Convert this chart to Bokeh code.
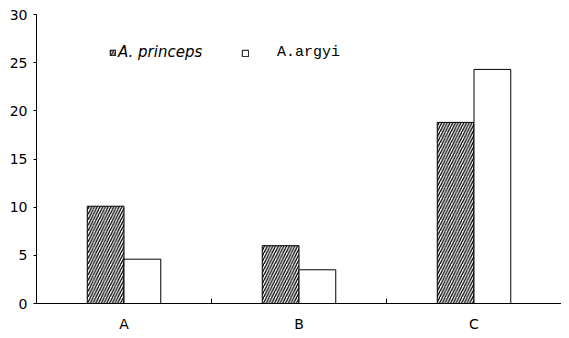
from bokeh.plotting import figure
from bokeh.models import ColumnDataSource, Legend, LegendItem, FixedTicker
from bokeh.transform import dodge
from bokeh.embed import file_html
from bokeh.resources import INLINE

categories = ["A", "B", "C"]
princeps = [10.1, 6.0, 18.8]
argyi = [4.6, 3.5, 24.3]
y_ticks = [0, 5, 10, 15, 20, 25, 30]

src = ColumnDataSource(dict(cat=categories, princeps=princeps, argyi=argyi))
bsrc = ColumnDataSource(dict(cat=categories[1:], y0=[0] * 2, y1=[0.5] * 2))

p = figure(x_range=categories, y_range=(0, 30), width=561, height=334,
           output_backend="svg", toolbar_location=None,
           min_border_left=36, min_border_right=0, min_border_top=14, min_border_bottom=20)
p.x_range.range_padding = 0

r1 = p.vbar(x=dodge("cat", -0.105, range=p.x_range), top="princeps", width=0.21, source=src,
            fill_color="white", line_color="black", line_width=1,
            hatch_pattern="/", hatch_color="black", hatch_scale=5.5, hatch_weight=1.3)
r2 = p.vbar(x=dodge("cat", 0.105, range=p.x_range), top="argyi", width=0.21, source=src,
            fill_color="white", line_color="black", line_width=1)
p.segment(x0=dodge("cat", -0.5, range=p.x_range), x1=dodge("cat", -0.5, range=p.x_range),
          y0="y0", y1="y1", source=bsrc, line_color="black", line_width=1)

p.grid.visible = False
p.outline_line_color = None

p.yaxis.ticker = FixedTicker(ticks=y_ticks)
p.yaxis.minor_tick_line_color = None
p.yaxis.major_tick_out = 3
p.yaxis.major_tick_in = 0
p.yaxis.major_label_text_font = "DejaVu Sans"
p.yaxis.major_label_text_font_size = "14px"
p.yaxis.major_label_text_color = "black"
p.yaxis.axis_line_color = "black"
p.yaxis.major_tick_line_color = "black"
p.yaxis.major_label_standoff = 6

p.xaxis.major_tick_line_color = None
p.xaxis.major_tick_out = 0
p.xaxis.major_tick_in = 0
p.xaxis.major_label_text_font = "DejaVu Sans"
p.xaxis.major_label_text_font_size = "14px"
p.xaxis.major_label_text_line_height = 0.9
p.xaxis.major_label_text_color = "black"
p.xaxis.major_label_standoff = 12
p.xaxis.axis_line_color = "black"

leg1 = Legend(items=[LegendItem(label="A. princeps", renderers=[r1])], location=(73, 242),
              padding=0, margin=0, border_line_color=None, background_fill_alpha=0,
              glyph_width=7, glyph_height=7, label_height=14, label_standoff=2,
              label_text_font="DejaVu Sans", label_text_font_style="italic",
              label_text_font_size="15px", label_text_color="black")
leg2 = Legend(items=[LegendItem(label="A.argyi", renderers=[r2])], location=(205, 242),
              padding=0, margin=0, border_line_color=None, background_fill_alpha=0,
              glyph_width=8, glyph_height=8, label_height=14, label_standoff=28,
              label_text_font="Liberation Mono",
              label_text_font_size="15px", label_text_color="black")
p.add_layout(leg1, "center")
p.add_layout(leg2, "center")

open("out.html", "w").write(file_html(p, INLINE))
